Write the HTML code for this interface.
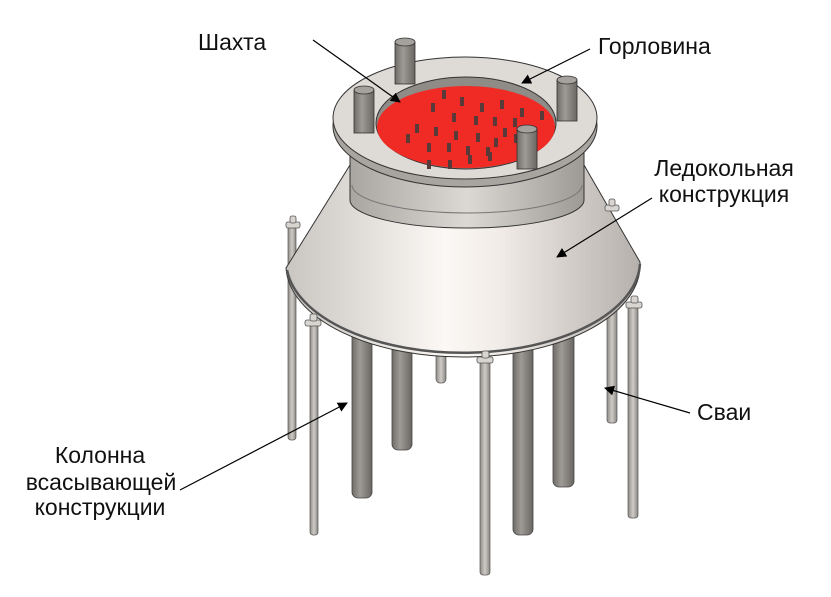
<!DOCTYPE html>
<html><head><meta charset="utf-8"><style>
html,body{margin:0;padding:0;background:#fff;width:831px;height:597px;overflow:hidden}
svg{display:block}
text{font-family:"Liberation Sans",Arial,sans-serif;font-size:23px;fill:#111}
</style></head><body>
<svg width="831" height="597" viewBox="0 0 831 597" xmlns="http://www.w3.org/2000/svg">
<defs>
<linearGradient id="cone" x1="0" x2="1" y1="0" y2="0">
<stop offset="0" stop-color="#c9c5c1"/><stop offset="0.45" stop-color="#fbf8f5"/><stop offset="0.6" stop-color="#f1ece8"/><stop offset="1" stop-color="#b5b0ac"/>
</linearGradient>
<linearGradient id="cyl" x1="0" x2="1">
<stop offset="0" stop-color="#a9a5a1"/><stop offset="0.5" stop-color="#dcd8d4"/><stop offset="1" stop-color="#9d9995"/>
</linearGradient>
<linearGradient id="pile" x1="0" x2="1">
<stop offset="0" stop-color="#6f6b67"/><stop offset="0.4" stop-color="#9e9a96"/><stop offset="1" stop-color="#6a6662"/>
</linearGradient>
<linearGradient id="thin" x1="0" x2="1">
<stop offset="0" stop-color="#8f8b87"/><stop offset="0.5" stop-color="#cfcbc7"/><stop offset="1" stop-color="#8a8682"/>
</linearGradient>
<marker id="ar" viewBox="0 0 10 10" refX="9" refY="5" markerWidth="10" markerHeight="10" orient="auto" markerUnits="userSpaceOnUse"><path d="M0,0 L10,5 L0,10 z" fill="#000"/></marker>
</defs>

<rect x="288" y="222" width="8" height="218" rx="3" fill="url(#thin)" stroke="#555" stroke-width="0.7"/>
<rect x="607" y="300" width="10" height="123" rx="3" fill="url(#thin)" stroke="#555" stroke-width="0.7"/>
<rect x="436" y="340" width="10" height="43" rx="4" fill="url(#thin)" stroke="#555" stroke-width="0.7"/>
<rect x="392" y="330" width="20" height="120" rx="6" fill="url(#pile)" stroke="#444" stroke-width="0.8"/>
<rect x="553" y="330" width="21" height="157" rx="6" fill="url(#pile)" stroke="#444" stroke-width="0.8"/>
<rect x="352" y="320" width="20" height="178" rx="6" fill="url(#pile)" stroke="#444" stroke-width="0.8"/>
<rect x="513" y="340" width="20" height="195" rx="6" fill="url(#pile)" stroke="#444" stroke-width="0.8"/>

<path d="M350,165 L286,268 A177,92 0 0 0 640,262 L584,165 Z" fill="url(#cone)" stroke="#333" stroke-width="1"/>
<path d="M287,270 A177,92 0 0 0 640,264" fill="none" stroke="#555" stroke-width="2.5"/>
<path d="M350,150 L350,200 A117,28 0 0 0 584,200 L584,150 Z" fill="url(#cyl)" stroke="#333" stroke-width="1"/>
<path d="M352,185 A115,28 0 0 0 582,185" fill="none" stroke="#777" stroke-width="1"/>

<rect x="310" y="322" width="8" height="213" rx="3" fill="url(#thin)" stroke="#555" stroke-width="0.7"/>
<rect x="480" y="357" width="10" height="218" rx="3" fill="url(#thin)" stroke="#555" stroke-width="0.7"/>
<rect x="628" y="302" width="10" height="216" rx="3" fill="url(#thin)" stroke="#555" stroke-width="0.7"/>
<g fill="#d8d4d0" stroke="#555" stroke-width="0.8">
<rect x="286" y="222" width="14" height="6" rx="2"/><rect x="290" y="216" width="6" height="7" rx="2"/>
<rect x="305" y="320" width="16" height="6" rx="2"/><rect x="310" y="314" width="7" height="7" rx="2"/>
<rect x="477" y="357" width="16" height="6" rx="2"/><rect x="482" y="351" width="7" height="7" rx="2"/>
<rect x="626" y="302" width="16" height="6" rx="2"/><rect x="631" y="296" width="7" height="7" rx="2"/>
<rect x="605" y="205" width="14" height="6" rx="2"/><rect x="609" y="199" width="6" height="7" rx="2"/>
</g>

<ellipse cx="465" cy="126" rx="132" ry="61" fill="#a8a4a0" stroke="#333"/>
<ellipse cx="465" cy="118" rx="132" ry="61" fill="#dedad6" stroke="#333"/>
<ellipse cx="466" cy="123" rx="90" ry="46" fill="#8f8b87" stroke="#333"/>
<ellipse cx="466" cy="127" rx="89" ry="41" fill="#f02a24"/>
<g fill="#5a3a38">
<rect x="442" y="90" width="4" height="9"/><rect x="460" y="97" width="4" height="9"/><rect x="480" y="103" width="4" height="9"/><rect x="500" y="100" width="4" height="9"/><rect x="520" y="108" width="4" height="9"/><rect x="540" y="111" width="4" height="9"/>
<rect x="431" y="103" width="4" height="9"/><rect x="452" y="113" width="4" height="9"/><rect x="474" y="116" width="4" height="9"/><rect x="493" y="117" width="4" height="9"/><rect x="513" y="118" width="4" height="9"/><rect x="514" y="134" width="4" height="9"/>
<rect x="415" y="124" width="4" height="9"/><rect x="434" y="127" width="4" height="9"/><rect x="454" y="131" width="4" height="9"/><rect x="476" y="133" width="4" height="9"/><rect x="494" y="138" width="4" height="9"/><rect x="503" y="128" width="4" height="9"/>
<rect x="406" y="134" width="4" height="9"/><rect x="427" y="143" width="4" height="9"/><rect x="447" y="143" width="4" height="9"/><rect x="466" y="146" width="4" height="9"/><rect x="486" y="147" width="4" height="9"/><rect x="427" y="160" width="4" height="9"/><rect x="448" y="160" width="4" height="9"/><rect x="468" y="155" width="4" height="9"/><rect x="488" y="152" width="4" height="9"/>
</g>
<g stroke="#333" stroke-width="0.8">
<rect x="395" y="42" width="20" height="42" fill="url(#pile)"/><ellipse cx="405" cy="42" rx="10" ry="4" fill="#a5a19d"/>
<rect x="354" y="90" width="20" height="43" fill="url(#pile)"/><ellipse cx="364" cy="90" rx="10" ry="4" fill="#a5a19d"/>
<rect x="557" y="80" width="20" height="41" fill="url(#pile)"/><ellipse cx="567" cy="80" rx="10" ry="4" fill="#a5a19d"/>
<rect x="517" y="129" width="20" height="40" fill="url(#pile)"/><ellipse cx="527" cy="129" rx="10" ry="4" fill="#a5a19d"/>
</g>

<g stroke="#000" stroke-width="1.2" fill="none" marker-end="url(#ar)">
<line x1="313" y1="40" x2="400" y2="102"/>
<line x1="590" y1="49" x2="522" y2="83"/>
<line x1="652" y1="198" x2="557" y2="257"/>
<line x1="180" y1="490" x2="347" y2="403"/>
<line x1="690" y1="413" x2="605" y2="388"/>
</g>

<text x="198" y="50">Шахта</text>
<text x="598" y="54">Горловина</text>
<text x="724" y="176" text-anchor="middle">Ледокольная</text>
<text x="724" y="202" text-anchor="middle">конструкция</text>
<text x="697" y="420">Сваи</text>
<text x="100" y="463" text-anchor="middle">Колонна</text>
<text x="101" y="490" text-anchor="middle">всасывающей</text>
<text x="100" y="515" text-anchor="middle">конструкции</text>
</svg>
</body></html>
